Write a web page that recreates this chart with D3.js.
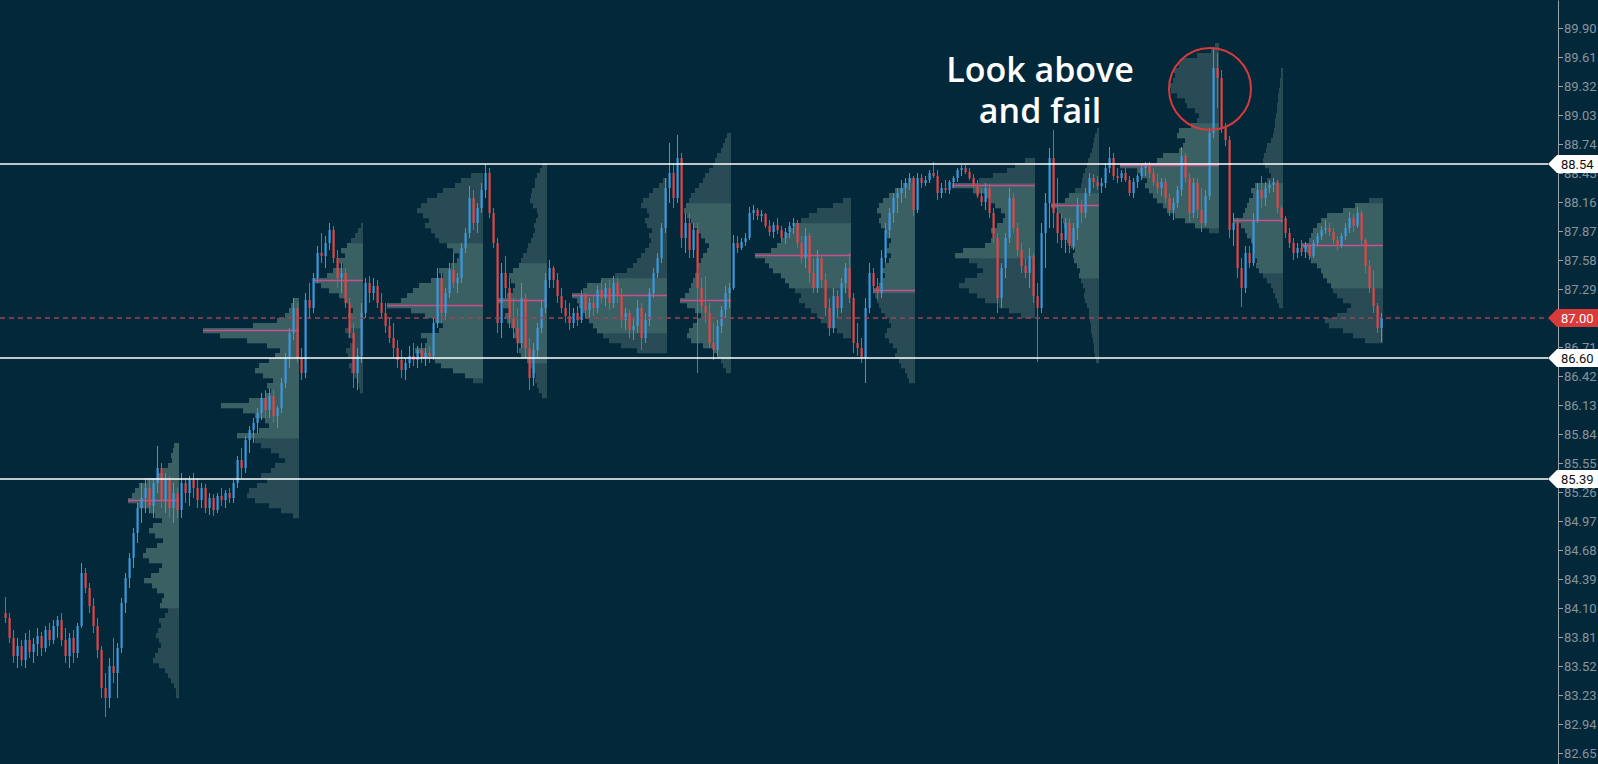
<!DOCTYPE html>
<html><head><meta charset="utf-8">
<script src="https://cdn.jsdelivr.net/npm/d3@7/dist/d3.min.js"></script>
<style>html,body{margin:0;padding:0;background:#03283a;overflow:hidden}</style>
</head><body><svg id="c" width="1598" height="764"></svg>
<script>
// ---------- DATA ----------
const priceTicks = [82.65,82.94,83.23,83.52,83.81,84.10,84.39,84.68,84.97,85.26,85.55,85.84,86.13,86.42,86.71,87.00,87.29,87.58,87.87,88.16,88.45,88.74,89.03,89.32,89.61,89.90];
const levels = [88.54, 86.60, 85.39];
const lastPrice = 87.00;
const noteLines = ["Look above", "and fail"];
const noteAt = [258.75, 89.36];
const circleAt = [301.25, 89.29];

// candles per session: [open, high, low, close]
const s1 = [
[84.05,84.21,83.95,84.00],[84.00,84.05,83.75,83.80],[83.80,83.88,83.55,83.62],[83.62,83.80,83.50,83.72],
[83.72,83.78,83.52,83.58],[83.58,83.85,83.50,83.78],[83.78,83.88,83.60,83.66],[83.66,83.80,83.55,83.74],
[83.74,83.90,83.62,83.82],[83.82,83.86,83.62,83.70],[83.70,83.92,83.66,83.88],[83.88,83.95,83.72,83.78],
[83.78,83.98,83.74,83.92],[83.92,84.02,83.80,83.98],[83.98,84.05,83.72,83.78],[83.78,83.90,83.55,83.62],
[83.62,83.85,83.50,83.80],[83.80,83.88,83.55,83.65],[83.65,83.95,83.60,83.92],[83.92,84.55,83.90,84.45],
[84.45,84.50,84.25,84.30],[84.30,84.35,84.05,84.12],[84.12,84.20,83.85,83.92],[83.92,84.00,83.60,83.68],
[83.68,83.72,83.20,83.30],[83.30,83.45,83.01,83.20],[83.20,83.60,83.10,83.52],[83.52,83.80,83.35,83.45],
[83.45,83.75,83.20,83.70],[83.70,84.20,83.65,84.15],[84.15,84.45,84.05,84.40],[84.40,84.65,84.30,84.60],
[84.60,84.90,84.50,84.85],[84.85,85.15,84.75,85.10],[85.10,85.35,84.95,85.20],[85.20,85.40,85.05,85.30],
[85.30,85.38,85.05,85.12],[85.12,85.40,85.00,85.35],[85.35,85.72,85.25,85.50],[85.50,85.55,85.10,85.18],
[85.18,85.45,85.05,85.38],[85.38,85.42,85.00,85.10],[85.10,85.35,84.95,85.25],[85.25,85.30,85.00,85.08]];
const s2 = [
[85.08,85.45,85.00,85.35],[85.35,85.40,85.15,85.25],[85.25,85.42,85.12,85.38],[85.38,85.45,85.20,85.30],
[85.30,85.40,85.10,85.18],[85.18,85.35,85.10,85.30],[85.30,85.34,85.05,85.10],[85.10,85.25,85.03,85.20],
[85.20,85.24,85.02,85.08],[85.08,85.25,85.05,85.22],[85.22,85.30,85.12,85.18],[85.18,85.28,85.10,85.25],
[85.25,85.30,85.15,85.20],[85.20,85.38,85.15,85.35],[85.35,85.62,85.30,85.58],[85.58,85.70,85.40,85.50],
[85.50,85.82,85.45,85.78],[85.78,85.92,85.65,85.88],[85.88,86.00,85.75,85.95],[85.95,86.10,85.85,86.05],
[86.05,86.25,85.98,86.20],[86.20,86.28,86.00,86.08],[86.08,86.30,86.00,86.22],[86.22,86.28,85.95,86.02],
[86.02,86.12,85.90,86.10],[86.10,86.40,86.05,86.35],[86.35,86.65,86.30,86.60],[86.60,86.90,86.50,86.85],
[86.85,87.20,86.78,87.10],[87.10,87.15,86.55,86.60]];
const s3 = [
[86.60,86.70,86.38,86.45],[86.45,87.25,86.40,87.18],[87.18,87.35,87.00,87.10],[87.10,87.45,87.05,87.40],
[87.40,87.72,87.35,87.65],[87.65,87.85,87.55,87.62],[87.62,87.82,87.50,87.75],[87.75,87.95,87.68,87.88],
[87.88,87.92,87.55,87.60],[87.60,87.68,87.30,87.40],[87.40,87.55,87.25,87.45],[87.45,87.50,87.10,87.15],
[87.15,87.20,86.80,86.85],[86.85,86.95,86.30,86.45],[86.45,86.70,86.28,86.62],[86.62,87.15,86.55,87.05]];
const s4 = [
[87.05,87.40,87.00,87.35],[87.35,87.42,87.15,87.25],[87.25,87.40,87.18,87.32],[87.32,87.38,87.10,87.15],
[87.15,87.25,87.00,87.05],[87.05,87.15,86.85,86.92],[86.92,87.00,86.75,86.80],[86.80,86.95,86.60,86.70],
[86.70,86.78,86.50,86.58],[86.58,86.68,86.40,86.48],[86.48,86.60,86.38,86.55],[86.55,86.72,86.50,86.62],
[86.62,86.75,86.52,86.58],[86.58,86.72,86.50,86.68],[86.68,86.75,86.55,86.60],[86.60,86.70,86.52,86.65],
[86.65,86.72,86.55,86.62],[86.62,87.00,86.58,86.95],[86.95,87.50,86.90,87.40],[87.40,87.45,86.95,87.05],
[87.05,87.30,86.98,87.25],[87.25,87.55,87.20,87.48],[87.48,87.65,87.30,87.35],[87.35,87.45,87.25,87.40],
[87.40,87.75,87.35,87.70],[87.70,87.90,87.65,87.85],[87.85,88.32,87.80,88.20],[88.20,88.28,87.88,87.95],
[87.95,88.15,87.85,88.10],[88.10,88.35,88.05,88.28]];
const s5 = [
[88.28,88.54,88.20,88.45],[88.45,88.50,88.00,88.05],[88.05,88.10,87.70,87.75],[87.75,87.80,86.85,86.95],
[86.95,87.55,86.80,87.45],[87.45,87.62,87.20,87.30],[87.30,87.40,86.90,87.00],[87.00,87.20,86.80,86.90],
[86.90,87.10,86.65,86.75],[86.75,87.35,86.70,87.20],[87.20,87.25,86.60,86.70],[86.70,86.80,86.28,86.40],
[86.40,86.75,86.32,86.68],[86.68,86.95,86.60,86.90],[86.90,87.18,86.85,87.10],[87.10,87.45,87.05,87.38]];
const s6 = [
[87.38,87.58,87.30,87.50],[87.50,87.52,87.30,87.38],[87.38,87.45,87.15,87.22],[87.22,87.30,87.05,87.10],
[87.10,87.18,86.95,87.02],[87.02,87.15,86.88,86.95],[86.95,87.10,86.90,87.05],[87.05,87.12,86.92,86.98],
[86.98,87.28,86.95,87.22],[87.22,87.25,87.00,87.08],[87.08,87.20,87.00,87.15],[87.15,87.22,87.02,87.10],
[87.10,87.32,87.05,87.28],[87.28,87.38,87.15,87.20],[87.20,87.35,87.12,87.30],[87.30,87.38,87.08,87.15],
[87.15,87.42,87.10,87.35],[87.35,87.40,87.15,87.22],[87.22,87.30,86.90,86.98],[86.98,87.10,86.88,87.05],
[87.05,87.08,86.80,86.88],[86.88,87.00,86.78,86.92],[86.92,87.18,86.85,87.10],[87.10,87.15,86.68,86.80],
[86.80,87.05,86.75,86.98],[86.98,87.30,86.92,87.25],[87.25,87.50,87.20,87.45],[87.45,87.65,87.40,87.60],
[87.60,87.95,87.55,87.90],[87.90,88.40,87.85,88.30]];
const s7 = [
[88.30,88.75,88.15,88.45],[88.45,88.55,88.10,88.20],[88.20,88.83,88.15,88.60],[88.60,88.65,87.70,87.80],
[87.80,88.05,87.65,87.95],[87.95,88.05,87.60,87.68],[87.68,87.95,87.60,87.88],[87.88,87.95,86.45,87.30],
[87.30,87.40,87.05,87.12],[87.12,87.42,86.95,87.05],[87.05,87.15,86.70,86.75],[86.75,86.95,86.58,86.68],
[86.68,86.98,86.62,86.92],[86.92,87.12,86.85,87.08],[87.08,87.32,87.00,87.25],[87.25,87.35,87.10,87.30]];
const s8 = [
[87.30,87.83,87.28,87.75],[87.75,87.82,87.65,87.70],[87.70,87.80,87.68,87.76],[87.76,87.85,87.72,87.80],
[87.80,88.11,87.78,88.05],[88.05,88.13,87.98,88.08],[88.08,88.10,87.98,88.02],[88.02,88.08,87.96,88.04],
[88.04,88.05,87.90,87.92],[87.92,87.98,87.82,87.86],[87.86,87.96,87.80,87.93],[87.93,88.00,87.84,87.88],
[87.88,87.92,87.76,87.80],[87.80,87.90,87.74,87.86],[87.86,87.96,87.80,87.92],[87.92,88.00,87.84,87.95],
[87.95,87.98,87.70,87.75],[87.75,87.82,87.55,87.60],[87.60,87.90,87.50,87.82],[87.82,87.85,87.35,87.45],
[87.45,87.60,87.25,87.30],[87.30,87.68,87.25,87.60],[87.60,87.62,87.30,87.38],[87.38,87.45,87.02,87.10],
[87.10,87.20,86.82,86.90],[86.90,87.30,86.85,87.22],[87.22,87.28,87.00,87.10],[87.10,87.40,87.05,87.35],
[87.35,87.55,87.25,87.50],[87.50,87.65,87.15,87.20]];
const s9 = [
[87.20,87.25,86.65,86.75],[86.75,86.95,86.62,86.70],[86.70,86.80,86.55,86.60],[86.60,87.20,86.35,87.10],
[87.10,87.55,87.05,87.45],[87.45,87.50,87.25,87.32],[87.32,87.40,87.18,87.25],[87.25,87.68,87.20,87.60],
[87.60,87.95,87.55,87.88],[87.88,88.10,87.80,88.05],[88.05,88.25,87.95,88.20],[88.20,88.30,88.05,88.25],
[88.25,88.38,88.15,88.30],[88.30,88.40,88.20,88.35],[88.35,88.45,88.28,88.40],[88.40,88.42,88.02,88.08]];
const s10 = [
[88.08,88.45,88.05,88.40],[88.40,88.44,88.30,88.35],[88.35,88.42,88.32,88.38],[88.38,88.48,88.35,88.45],
[88.45,88.56,88.40,88.42],[88.42,88.48,88.18,88.25],[88.25,88.35,88.20,88.30],[88.30,88.38,88.25,88.28],
[88.28,88.38,88.24,88.36],[88.36,88.42,88.30,88.40],[88.40,88.50,88.36,88.48],[88.48,88.53,88.42,88.50],
[88.50,88.53,88.44,88.46],[88.46,88.50,88.38,88.40],[88.40,88.44,88.30,88.32],[88.32,88.38,88.20,88.22],
[88.22,88.30,88.12,88.16],[88.16,88.35,88.08,88.30],[88.30,88.34,88.00,88.05],[88.05,88.10,87.75,87.80],
[87.80,87.85,87.05,87.20],[87.20,87.55,87.10,87.50],[87.50,87.85,87.40,87.80],[87.80,88.30,87.75,88.20],
[88.20,88.25,87.85,87.90],[87.90,87.95,87.62,87.68],[87.68,87.75,87.45,87.52],[87.52,87.60,87.40,87.45],
[87.45,87.70,87.30,87.62],[87.62,87.65,87.15,87.22]];
const s11 = [
[87.22,87.35,86.56,87.10],[87.10,87.95,87.05,87.85],[87.85,88.25,87.50,88.15],[88.15,88.70,87.90,88.60],
[88.60,88.88,87.90,88.05],[88.05,88.40,87.75,87.85],[87.85,88.05,87.70,87.78],[87.78,88.00,87.65,87.95],
[87.95,88.00,87.65,87.72],[87.72,87.95,87.68,87.90],[87.90,88.20,87.78,88.12],[88.12,88.18,87.95,88.05],
[88.05,88.30,88.00,88.25],[88.25,88.45,88.22,88.40],[88.40,88.44,88.30,88.36],[88.36,88.42,88.28,88.32]];
const s12 = [
[88.32,88.40,88.25,88.35],[88.35,88.55,88.30,88.50],[88.50,88.71,88.45,88.60],[88.60,88.65,88.38,88.42],
[88.42,88.50,88.35,88.40],[88.40,88.48,88.36,88.45],[88.45,88.50,88.36,88.38],[88.38,88.42,88.22,88.25],
[88.25,88.40,88.20,88.36],[88.36,88.44,88.30,88.42],[88.42,88.52,88.38,88.50],[88.50,88.56,88.42,88.52],
[88.52,88.56,88.40,88.45],[88.45,88.50,88.32,88.36],[88.36,88.44,88.25,88.30],[88.30,88.40,88.22,88.36],
[88.36,88.40,88.15,88.20],[88.20,88.25,88.02,88.08],[88.08,88.20,87.98,88.15],[88.15,88.32,88.10,88.28],
[88.28,88.71,88.22,88.62],[88.62,88.65,88.35,88.40],[88.40,88.45,87.96,88.05],[88.05,88.40,88.00,88.35],
[88.35,88.40,88.00,88.08],[88.08,88.30,87.86,87.95],[87.95,88.28,87.92,88.22],[88.22,88.90,88.18,88.85],
[88.85,89.71,88.80,89.50],[89.50,89.65,89.10,89.40]];
const s13 = [
[89.40,89.48,88.85,88.90],[88.90,88.95,88.72,88.78],[88.78,88.82,87.80,87.88],[87.88,88.05,87.72,87.95],
[87.95,88.00,87.40,87.50],[87.50,87.60,87.11,87.30],[87.30,87.72,87.25,87.65],[87.65,87.72,87.50,87.55],
[87.55,88.05,87.52,87.98],[87.98,88.35,87.95,88.28],[88.28,88.42,88.10,88.20],[88.20,88.36,88.12,88.30],
[88.30,88.38,88.25,88.33],[88.33,88.40,88.26,88.36],[88.36,88.38,88.05,88.10],[88.10,88.12,87.95,88.00]];
const s14 = [
[88.00,88.02,87.80,87.85],[87.85,87.90,87.70,87.75],[87.75,87.80,87.58,87.65],[87.65,87.75,87.60,87.70],
[87.70,87.78,87.62,87.66],[87.66,87.76,87.60,87.72],[87.72,87.74,87.58,87.62],[87.62,87.78,87.60,87.75],
[87.75,87.85,87.72,87.82],[87.82,87.92,87.78,87.88],[87.88,87.98,87.84,87.90],[87.90,87.95,87.82,87.86],
[87.86,87.90,87.74,87.78],[87.78,87.82,87.68,87.72],[87.72,87.85,87.70,87.82],[87.82,87.95,87.78,87.90],
[87.90,88.06,87.85,88.00],[88.00,88.04,87.86,87.92],[87.92,88.11,87.90,88.05],[88.05,88.08,87.72,87.78],
[87.78,87.80,87.45,87.52],[87.52,87.58,87.25,87.30],[87.30,87.48,87.05,87.12],[87.12,87.15,86.85,86.90],
[86.90,87.05,86.76,87.00]];
const sessions = [s1,s2,s3,s4,s5,s6,s7,s8,s9,s10,s11,s12,s13,s14];

// volume profile per session: lowest price bin, bin volumes (0.05 steps, bottom to top), value area
const binSize = 0.05;
const profLow = [83.20,85.00,86.25,86.35,86.20,86.65,86.45,86.80,86.35,87.00,86.55,87.85,87.10,86.75];
const valueArea = [[84.10,85.75],[85.80,87.20],[86.88,87.73],[86.40,87.75],[86.55,87.55],[86.85,87.40],[86.60,88.15],[87.30,87.95],[87.25,88.35],[87.60,88.35],[87.40,88.25],[87.90,88.95],[87.45,88.35],[87.30,88.15]];
const vp1 = [3,3,5,8,11,14,20,26,24,21,18,20,23,21,18,20,14,11,19,17,15,22,27,35,28,20,17,30,36,33,22,16,24,30,26,17,24,30,42,51,47,44,40,32,22,16,11,7,8,6,5];
const vp2 = [6,18,30,44,52,50,42,32,38,28,24,14,20,28,38,44,62,40,30,34,44,56,78,50,34,28,32,26,36,44,40,30,24,19,32,52,79,96,46,22,14,10,8,6];
const vp3 = [3,4,6,9,12,14,11,15,17,13,9,15,18,14,12,15,10,14,18,24,34,42,49,36,30,20,24,18,22,16,12,8,5,2];
const vp4 = [10,18,30,42,48,62,68,58,56,62,44,40,48,58,72,96,82,76,70,64,52,40,44,32,26,24,30,36,44,48,52,58,54,60,66,62,56,46,40,28,22,12];
const vp5 = [5,8,10,12,11,15,18,20,26,28,25,30,34,32,36,40,42,38,44,49,40,34,32,36,38,34,28,26,24,20,19,16,14,12,13,11,9,10,14,17,16,15,12,12,10,7,5];
const vp6 = [30,46,58,64,70,74,78,82,86,88,90,95,84,80,66,52,40,34,30,26,22,18,16,18,15,20,22,18,20,26,24,18,14,8,4];
const vp7 = [5,8,10,14,18,28,40,44,42,38,34,30,36,44,51,46,42,40,38,36,32,34,30,28,24,22,26,30,34,38,40,44,47,45,42,40,36,32,28,26,22,18,16,14,10,8,6,4];
const vp8 = [8,14,24,30,34,40,46,52,50,56,62,66,70,78,82,86,96,80,74,70,66,62,58,50,42,34,18,8];
const vp9 = [6,8,10,14,16,20,18,22,26,30,28,24,26,30,34,36,38,40,42,36,32,30,34,30,26,24,28,26,24,28,30,34,36,34,38,36,32,26,20,12,6];
const vp10 = [14,26,36,50,58,66,76,70,58,52,58,66,80,72,50,44,40,44,38,32,30,34,40,44,50,62,83,56,42,28,20,10];
const vp11 = [3,4,5,5,6,7,8,8,9,10,10,12,14,15,14,16,18,20,19,22,25,26,24,28,32,34,33,35,36,38,42,48,34,30,24,18,17,16,14,12,11,9,7,6,5,4,2];
const vp12 = [10,24,34,44,52,56,62,66,70,74,72,78,82,99,62,56,40,36,34,42,40,28,22,20,24,32,34,42,48,49,46,44,45,40,38,22,8,4];
const vp13 = [4,6,8,10,12,16,20,24,27,26,28,30,29,32,36,38,42,49,40,38,36,34,30,32,28,16,12,14,18,20,19,17,16,12,10,9,8,8,7,6,6,5,5,4,3,3,2,2];
const vp14 = [18,30,40,54,58,46,36,32,40,46,50,52,56,60,62,66,72,74,76,82,74,72,70,66,62,56,40,28,14];
const profVols = [vp1,vp2,vp3,vp4,vp5,vp6,vp7,vp8,vp9,vp10,vp11,vp12,vp13,vp14];

// ---------- STYLE ----------
const W = 1598, H = 764;
const C = {
  bg: "#03283a", up: "#3d98dc", down: "#e04646", va: "#3a6064", nonVa: "#284b55",
  poc: "#c8508a", level: "#ffffff", last: "#9a4655", axis: "#9aa4aa", tickText: "#88949b",
  tagRed: "#d93a3a"
};

const svg = d3.select("#c");
svg.append("rect").attr("width", W).attr("height", H).attr("fill", C.bg);

const candles = sessions.flat();
const x = d3.scaleLinear().domain([0, candles.length - 1]).range([5, 5 + 4 * (candles.length - 1)]);
const y = d3.scaleLinear().domain([82.54, 90.18]).range([H, 0]);
const vw = d3.scaleLinear().domain([0, 100]).range([0, 100]);
const halfStep = (x(1) - x(0)) / 2;

let acc = 0;
const sessionEnd = sessions.map(s => (acc += s.length) - 1);

// ---------- VOLUME PROFILES ----------
const gP = svg.append("g");
profVols.forEach((vols, k) => {
  const right = x(sessionEnd[k]) + halfStep;
  const lo = profLow[k];
  const [vaLo, vaHi] = valueArea[k];
  gP.append("g").selectAll("rect").data(vols).join("rect")
    .attr("x", v => right - vw(v))
    .attr("width", v => vw(v))
    .attr("y", (v, i) => y(lo + (i + 1) * binSize))
    .attr("height", (v, i) => y(lo + i * binSize) - y(lo + (i + 1) * binSize) + 0.3)
    .attr("fill", (v, i) => {
      const mid = lo + (i + 0.5) * binSize;
      return (mid >= vaLo && mid <= vaHi) ? C.va : C.nonVa;
    });
  const pi = d3.maxIndex(vols);
  const py = y(lo + (pi + 0.5) * binSize);
  gP.append("line").attr("x1", right - vw(vols[pi])).attr("x2", right)
    .attr("y1", py).attr("y2", py).attr("stroke", C.poc).attr("stroke-width", 1.5);
});

// ---------- CANDLES ----------
const gC = svg.append("g");
const col = d => d[3] >= d[0] ? C.up : C.down;
gC.selectAll("line").data(candles).join("line")
  .attr("x1", (d, i) => x(i) + 0.5).attr("x2", (d, i) => x(i) + 0.5)
  .attr("y1", d => y(d[1])).attr("y2", d => y(d[2]))
  .attr("stroke", col).attr("stroke-width", 1);
gC.selectAll("rect").data(candles).join("rect")
  .attr("x", (d, i) => x(i) - 0.5).attr("width", 2.2)
  .attr("y", d => y(Math.max(d[0], d[3])))
  .attr("height", d => Math.max(1, Math.abs(y(d[0]) - y(d[3]))))
  .attr("fill", col);

// ---------- LEVEL LINES ----------
const axisX = 1558, tagX = 1548;
svg.append("g").selectAll("line").data(levels).join("line")
  .attr("x1", 0).attr("x2", tagX).attr("y1", d => y(d)).attr("y2", d => y(d))
  .attr("stroke", C.level).attr("stroke-width", 1.5);
svg.append("line").attr("x1", 0).attr("x2", tagX)
  .attr("y1", y(lastPrice)).attr("y2", y(lastPrice))
  .attr("stroke", C.last).attr("stroke-width", 1.5).attr("stroke-dasharray", "5,4");

// ---------- AXIS ----------
const gA = svg.append("g").attr("transform", `translate(${axisX},0)`)
  .call(d3.axisRight(y).tickValues(priceTicks).tickFormat(d3.format(".2f")).tickSize(5).tickSizeOuter(0).tickPadding(1));
gA.select(".domain").attr("stroke", C.axis);
gA.selectAll(".tick line").attr("stroke", C.axis);
gA.selectAll(".tick text").attr("fill", C.tickText).style("font-family", "Roboto").style("font-size", "13px");

// ---------- PRICE TAGS ----------
const tags = levels.map(v => ({ v, fill: "#ffffff", text: "#111111" }))
  .concat([{ v: lastPrice, fill: C.tagRed, text: "#ffffff" }]);
const gT = svg.append("g").selectAll("g").data(tags).join("g")
  .attr("transform", d => `translate(0,${y(d.v)})`);
gT.append("path")
  .attr("d", `M${tagX},0 L${tagX + 9},-9 L${W},-9 L${W},9 L${tagX + 9},9 Z`)
  .attr("fill", d => d.fill);
gT.append("text").attr("x", tagX + 13).attr("y", 0).attr("dy", "0.35em")
  .attr("fill", d => d.text).style("font-family", "Roboto").style("font-size", "13px")
  .text(d => d3.format(".2f")(d.v));

// ---------- ANNOTATION ----------
noteLines.forEach((t, i) => svg.append("text")
  .attr("x", x(noteAt[0])).attr("y", y(noteAt[1]) + i * 41)
  .attr("text-anchor", "middle").attr("fill", "#ffffff")
  .style("font-family", "'Open Sans'").style("font-size", "34px").style("font-weight", 600)
  .text(t));
svg.append("circle").attr("cx", x(circleAt[0])).attr("cy", y(circleAt[1])).attr("r", 41)
  .attr("fill", "none").attr("stroke", C.tagRed).attr("stroke-width", 2);
</script></body></html>
